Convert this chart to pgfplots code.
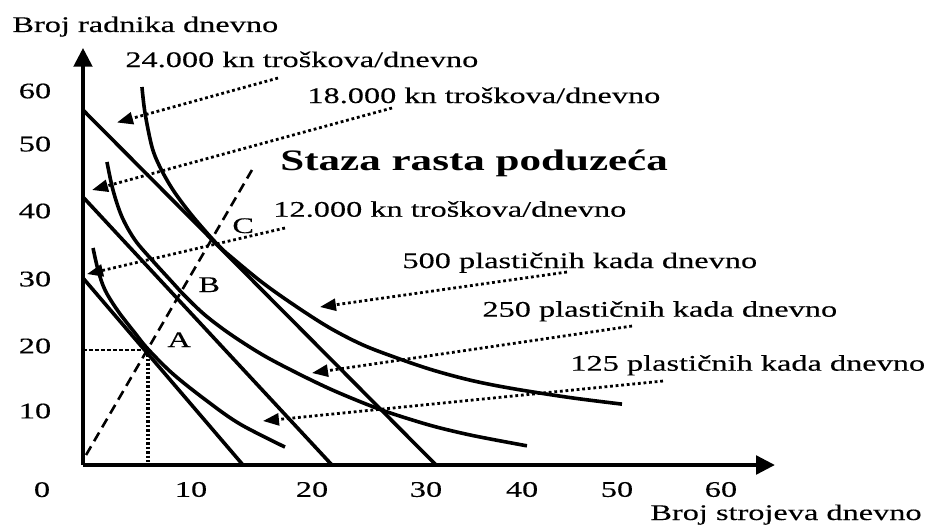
\documentclass[border=0pt]{standalone}
\usepackage{fontspec}
\setmainfont{Liberation Serif}[FakeStretch=1.45, UprightFeatures={FakeBold=0.3}]
\usepackage{pgfplots}
\pgfplotsset{compat=1.18}
\usetikzlibrary{arrows.meta}
\newcommand{\lbl}{\fontsize{11.15}{13.4}\selectfont}
\begin{document}
\begin{tikzpicture}[font=\lbl]
\path[use as bounding box] (-41.5pt,-30.5pt) rectangle (425pt,232.5pt);
\begin{axis}[
  x=5.45pt, y=3.375pt,
  xmin=0, xmax=63.5, ymin=1.78, ymax=63.6,
  axis lines=left,
  axis line style={line width=2.4pt, -{Triangle[length=9.5pt,width=9pt]}},
  clip=false,
  xtick={9.91,21.01,31.47,40.28,48.99,58.53},
  xticklabels={10,20,30,40,50,60},
  ytick={9.78,19.41,29.33,39.41,49.33,57.19},
  yticklabels={10,20,30,40,50,60},
  major tick length=0pt,
  tick style={draw=none},
  xticklabel style={anchor=center, yshift=-12.25pt, font=\lbl, inner sep=0pt},
  yticklabel style={anchor=center, xshift=-24pt, font=\lbl, inner sep=0pt},
]
% isocost lines
\addplot[line width=1.8pt] coordinates {(0,54.37) (32.39,1.78)};
\addplot[line width=1.8pt] coordinates {(0,41.48) (22.84,1.78)};
\addplot[line width=1.8pt] coordinates {(0,29.48) (14.68,1.78)};
% isoquant 500
\addplot[line width=1.8pt, smooth, tension=0.55] coordinates {
(5.41,57.78) (5.69,53.93) (6.33,48.89) (7.06,45.93) (8.26,42.52) (9.82,39.11)
(11.38,36.15) (12.57,34.07) (13.49,32.74) (16.51,28.74) (19.63,25.19)
(22.66,22.07) (25.69,19.56) (28.81,17.63) (31.83,15.97) (34.86,14.61)
(37.34,13.72) (40.37,12.84) (44.90,11.72) (49.45,10.80)};
% isoquant 250
\addplot[line width=1.8pt, smooth, tension=0.55] coordinates {
(2.20,46.67) (2.75,42.52) (3.58,38.52) (4.77,35.11) (6.33,32.15) (8.17,28.89)
(9.36,26.81) (11.19,24.00) (13.49,21.19) (16.51,18.07) (19.63,15.41)
(22.66,13.05) (25.69,10.99) (28.17,9.50) (31.83,7.67) (34.86,6.46)
(37.34,5.64) (40.73,4.62)};
% isoquant 125
\addplot[line width=1.8pt, smooth, tension=0.55] coordinates {
(0.92,33.93) (1.38,30.67) (2.02,27.70) (3.21,24.59) (4.77,21.33) (5.96,18.96)
(8.26,15.26) (11.38,11.26) (14.40,7.85) (18.53,4.44)};
% expansion path
\addplot[line width=1.3pt, dash pattern=on 5pt off 3pt] coordinates {(0.28,3.26) (15.50,45.48)};
% dotted guides at A
\addplot[line width=1.4pt, dash pattern=on 2pt off 1pt] coordinates {(0,18.81) (5.96,18.81)};
\addplot[line width=1.8pt, dash pattern=on 1.2pt off 1pt] coordinates {(5.96,18.81) (5.96,1.78)};
% label arrows
\pgfplotsset{lblarrow/.style={line width=1.4pt, dash pattern=on 1.4pt off 1.4pt, -{Triangle[length=8pt,width=6pt]}}}
\addplot[lblarrow] coordinates {(17.89,59.11) (3.12,52.52)};
\addplot[lblarrow] coordinates {(28.35,54.67) (0.83,42.52)};
\addplot[lblarrow] coordinates {(18.53,36.89) (0.37,30.07)};
\addplot[lblarrow] coordinates {(44.40,30.37) (21.74,25.19)};
\addplot[lblarrow] coordinates {(50.37,22.37) (21.01,15.41)};
\addplot[lblarrow] coordinates {(53.21,14.22) (16.51,8.30)};
% texts
\node[anchor=base west, inner sep=0pt] at (axis cs:-6.51,65.93) {Broj radnika dnevno};
\node[anchor=base west, inner sep=0pt] at (axis cs:3.85,60.74) {24.000 kn troškova/dnevno};
\node[anchor=base west, inner sep=0pt] at (axis cs:20.55,55.41) {18.000 kn troškova/dnevno};
\node[anchor=base west, inner sep=0pt, font=\fontsize{14.85}{17}\selectfont\bfseries] at (axis cs:18.07,45.48) {Staza rasta poduzeća};
\node[anchor=base west, inner sep=0pt] at (axis cs:17.43,38.56) {12.000 kn troškova/dnevno};
\node[anchor=base west, inner sep=0pt] at (axis cs:29.27,30.96) {500 plastičnih kada dnevno};
\node[anchor=base west, inner sep=0pt] at (axis cs:36.61,23.75) {250 plastičnih kada dnevno};
\node[anchor=base west, inner sep=0pt] at (axis cs:44.68,15.75) {125 plastičnih kada dnevno};
\node[anchor=base west, inner sep=0pt] at (axis cs:52.02,-6.37) {Broj strojeva dnevno};
\node[anchor=base west, inner sep=0pt] at (axis cs:7.71,19.26) {A};
\node[anchor=base west, inner sep=0pt] at (axis cs:10.55,27.41) {B};
\node[anchor=base west, inner sep=0pt] at (axis cs:13.67,36.15) {C};
\node[anchor=base, inner sep=0pt] at (axis cs:-3.76,-2.96) {0};
\end{axis}
\end{tikzpicture}
\end{document}
